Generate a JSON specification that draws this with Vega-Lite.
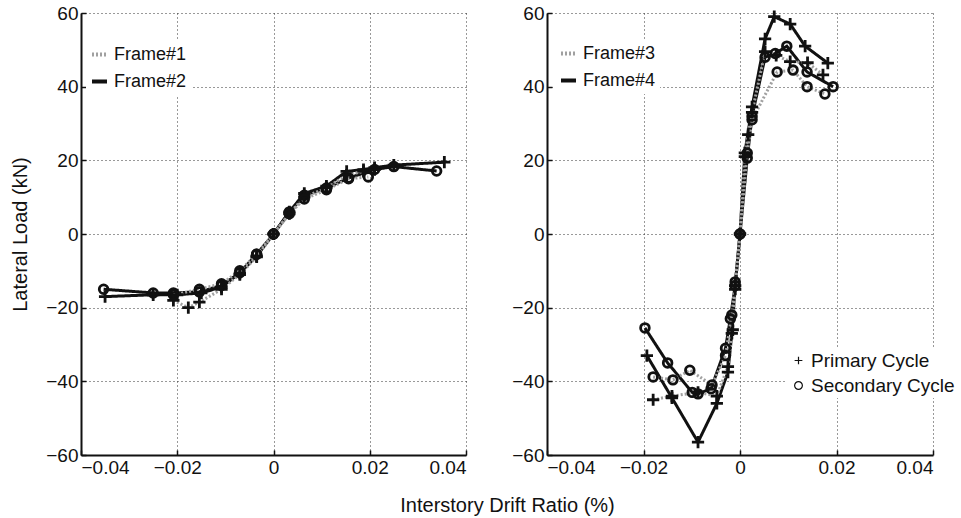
{
  "$schema": "https://vega.github.io/schema/vega-lite/v6.json",
  "padding": {"left": 10, "top": 4, "right": 2, "bottom": 2},
  "background": "white",
  "config": {
    "font": "Liberation Sans",
    "view": {"stroke": null},
    "axis": {
      "gridDash": [1, 3], "gridColor": "#333", "gridWidth": 1, "gridOpacity": 1,
      "domainColor": "#111", "domainWidth": 2,
      "tickColor": "#111", "tickWidth": 1.5, "tickSize": -5,
      "labelFontSize": 19, "labelColor": "#111", "labelPadding": 8,
      "titleFontSize": 20, "titleFontWeight": "normal", "titleColor": "#111"
    },
    "legend": {"labelColor": "#111", "fillColor": "white", "title": null}
  },
  "datasets": {
    "d": [
      {"panel":"L","frame":"Frame#2","cycle":"Primary Cycle","s":"F2P","x":-0.035,"y":-17},
      {"panel":"L","frame":"Frame#2","cycle":"Primary Cycle","s":"F2P","x":-0.025,"y":-16.5},
      {"panel":"L","frame":"Frame#2","cycle":"Primary Cycle","s":"F2P","x":-0.020,"y":-16.5},
      {"panel":"L","frame":"Frame#2","cycle":"Primary Cycle","s":"F2P","x":-0.015,"y":-16},
      {"panel":"L","frame":"Frame#2","cycle":"Primary Cycle","s":"F2P","x":-0.0108,"y":-14.4},
      {"panel":"L","frame":"Frame#2","cycle":"Primary Cycle","s":"F2P","x":-0.007,"y":-10.6},
      {"panel":"L","frame":"Frame#2","cycle":"Primary Cycle","s":"F2P","x":-0.0035,"y":-6},
      {"panel":"L","frame":"Frame#2","cycle":"Primary Cycle","s":"F2P","x":0,"y":0},
      {"panel":"L","frame":"Frame#2","cycle":"Primary Cycle","s":"F2P","x":0.0033,"y":6},
      {"panel":"L","frame":"Frame#2","cycle":"Primary Cycle","s":"F2P","x":0.0064,"y":11},
      {"panel":"L","frame":"Frame#2","cycle":"Primary Cycle","s":"F2P","x":0.011,"y":13},
      {"panel":"L","frame":"Frame#2","cycle":"Primary Cycle","s":"F2P","x":0.0152,"y":17},
      {"panel":"L","frame":"Frame#2","cycle":"Primary Cycle","s":"F2P","x":0.0187,"y":17.5},
      {"panel":"L","frame":"Frame#2","cycle":"Primary Cycle","s":"F2P","x":0.021,"y":18},
      {"panel":"L","frame":"Frame#2","cycle":"Primary Cycle","s":"F2P","x":0.025,"y":18.7},
      {"panel":"L","frame":"Frame#2","cycle":"Primary Cycle","s":"F2P","x":0.0355,"y":19.5},

      {"panel":"L","frame":"Frame#2","cycle":"Secondary Cycle","s":"F2S","x":-0.0353,"y":-15},
      {"panel":"L","frame":"Frame#2","cycle":"Secondary Cycle","s":"F2S","x":-0.025,"y":-16},
      {"panel":"L","frame":"Frame#2","cycle":"Secondary Cycle","s":"F2S","x":-0.0208,"y":-16},
      {"panel":"L","frame":"Frame#2","cycle":"Secondary Cycle","s":"F2S","x":-0.0154,"y":-15.7},
      {"panel":"L","frame":"Frame#2","cycle":"Secondary Cycle","s":"F2S","x":-0.0108,"y":-14},
      {"panel":"L","frame":"Frame#2","cycle":"Secondary Cycle","s":"F2S","x":-0.007,"y":-10.5},
      {"panel":"L","frame":"Frame#2","cycle":"Secondary Cycle","s":"F2S","x":-0.0035,"y":-5.5},
      {"panel":"L","frame":"Frame#2","cycle":"Secondary Cycle","s":"F2S","x":0,"y":0},
      {"panel":"L","frame":"Frame#2","cycle":"Secondary Cycle","s":"F2S","x":0.0033,"y":6},
      {"panel":"L","frame":"Frame#2","cycle":"Secondary Cycle","s":"F2S","x":0.0064,"y":10.5},
      {"panel":"L","frame":"Frame#2","cycle":"Secondary Cycle","s":"F2S","x":0.011,"y":12.5},
      {"panel":"L","frame":"Frame#2","cycle":"Secondary Cycle","s":"F2S","x":0.0156,"y":15.2},
      {"panel":"L","frame":"Frame#2","cycle":"Secondary Cycle","s":"F2S","x":0.021,"y":17.5},
      {"panel":"L","frame":"Frame#2","cycle":"Secondary Cycle","s":"F2S","x":0.025,"y":18.3},
      {"panel":"L","frame":"Frame#2","cycle":"Secondary Cycle","s":"F2S","x":0.0339,"y":17.1},

      {"panel":"L","frame":"Frame#1","cycle":"Primary Cycle","s":"F1P","x":-0.0208,"y":-18},
      {"panel":"L","frame":"Frame#1","cycle":"Primary Cycle","s":"F1P","x":-0.0177,"y":-20},
      {"panel":"L","frame":"Frame#1","cycle":"Primary Cycle","s":"F1P","x":-0.0154,"y":-18.5},
      {"panel":"L","frame":"Frame#1","cycle":"Primary Cycle","s":"F1P","x":-0.0108,"y":-15},
      {"panel":"L","frame":"Frame#1","cycle":"Primary Cycle","s":"F1P","x":-0.007,"y":-11},
      {"panel":"L","frame":"Frame#1","cycle":"Primary Cycle","s":"F1P","x":-0.0035,"y":-6.2},
      {"panel":"L","frame":"Frame#1","cycle":"Primary Cycle","s":"F1P","x":0,"y":0},
      {"panel":"L","frame":"Frame#1","cycle":"Primary Cycle","s":"F1P","x":0.0033,"y":5.5},
      {"panel":"L","frame":"Frame#1","cycle":"Primary Cycle","s":"F1P","x":0.0064,"y":10},
      {"panel":"L","frame":"Frame#1","cycle":"Primary Cycle","s":"F1P","x":0.011,"y":12.5},
      {"panel":"L","frame":"Frame#1","cycle":"Primary Cycle","s":"F1P","x":0.0152,"y":16},
      {"panel":"L","frame":"Frame#1","cycle":"Primary Cycle","s":"F1P","x":0.0187,"y":17},
      {"panel":"L","frame":"Frame#1","cycle":"Primary Cycle","s":"F1P","x":0.021,"y":17.5},

      {"panel":"L","frame":"Frame#1","cycle":"Secondary Cycle","s":"F1S","x":-0.0208,"y":-16.5},
      {"panel":"L","frame":"Frame#1","cycle":"Secondary Cycle","s":"F1S","x":-0.0154,"y":-15},
      {"panel":"L","frame":"Frame#1","cycle":"Secondary Cycle","s":"F1S","x":-0.0108,"y":-13.5},
      {"panel":"L","frame":"Frame#1","cycle":"Secondary Cycle","s":"F1S","x":-0.007,"y":-10},
      {"panel":"L","frame":"Frame#1","cycle":"Secondary Cycle","s":"F1S","x":-0.0035,"y":-5.5},
      {"panel":"L","frame":"Frame#1","cycle":"Secondary Cycle","s":"F1S","x":0,"y":0},
      {"panel":"L","frame":"Frame#1","cycle":"Secondary Cycle","s":"F1S","x":0.0033,"y":5.5},
      {"panel":"L","frame":"Frame#1","cycle":"Secondary Cycle","s":"F1S","x":0.0064,"y":9.5},
      {"panel":"L","frame":"Frame#1","cycle":"Secondary Cycle","s":"F1S","x":0.011,"y":12},
      {"panel":"L","frame":"Frame#1","cycle":"Secondary Cycle","s":"F1S","x":0.0156,"y":15},
      {"panel":"L","frame":"Frame#1","cycle":"Secondary Cycle","s":"F1S","x":0.0197,"y":15.5},

      {"panel":"R","frame":"Frame#4","cycle":"Primary Cycle","s":"F4P","x":-0.0193,"y":-33},
      {"panel":"R","frame":"Frame#4","cycle":"Primary Cycle","s":"F4P","x":-0.0141,"y":-44.5},
      {"panel":"R","frame":"Frame#4","cycle":"Primary Cycle","s":"F4P","x":-0.0087,"y":-56.5},
      {"panel":"R","frame":"Frame#4","cycle":"Primary Cycle","s":"F4P","x":-0.0048,"y":-46},
      {"panel":"R","frame":"Frame#4","cycle":"Primary Cycle","s":"F4P","x":-0.0025,"y":-37.5},
      {"panel":"R","frame":"Frame#4","cycle":"Primary Cycle","s":"F4P","x":-0.0017,"y":-27},
      {"panel":"R","frame":"Frame#4","cycle":"Primary Cycle","s":"F4P","x":-0.001,"y":-14},
      {"panel":"R","frame":"Frame#4","cycle":"Primary Cycle","s":"F4P","x":0,"y":0},
      {"panel":"R","frame":"Frame#4","cycle":"Primary Cycle","s":"F4P","x":0.001,"y":22},
      {"panel":"R","frame":"Frame#4","cycle":"Primary Cycle","s":"F4P","x":0.0025,"y":34.5},
      {"panel":"R","frame":"Frame#4","cycle":"Primary Cycle","s":"F4P","x":0.0052,"y":53},
      {"panel":"R","frame":"Frame#4","cycle":"Primary Cycle","s":"F4P","x":0.0071,"y":59},
      {"panel":"R","frame":"Frame#4","cycle":"Primary Cycle","s":"F4P","x":0.0104,"y":57},
      {"panel":"R","frame":"Frame#4","cycle":"Primary Cycle","s":"F4P","x":0.0135,"y":51},
      {"panel":"R","frame":"Frame#4","cycle":"Primary Cycle","s":"F4P","x":0.0182,"y":46.4},

      {"panel":"R","frame":"Frame#4","cycle":"Secondary Cycle","s":"F4S","x":-0.0197,"y":-25.5},
      {"panel":"R","frame":"Frame#4","cycle":"Secondary Cycle","s":"F4S","x":-0.015,"y":-35},
      {"panel":"R","frame":"Frame#4","cycle":"Secondary Cycle","s":"F4S","x":-0.0099,"y":-43},
      {"panel":"R","frame":"Frame#4","cycle":"Secondary Cycle","s":"F4S","x":-0.0087,"y":-43.4},
      {"panel":"R","frame":"Frame#4","cycle":"Secondary Cycle","s":"F4S","x":-0.006,"y":-42},
      {"panel":"R","frame":"Frame#4","cycle":"Secondary Cycle","s":"F4S","x":-0.003,"y":-31},
      {"panel":"R","frame":"Frame#4","cycle":"Secondary Cycle","s":"F4S","x":-0.002,"y":-23},
      {"panel":"R","frame":"Frame#4","cycle":"Secondary Cycle","s":"F4S","x":-0.001,"y":-14},
      {"panel":"R","frame":"Frame#4","cycle":"Secondary Cycle","s":"F4S","x":0,"y":0},
      {"panel":"R","frame":"Frame#4","cycle":"Secondary Cycle","s":"F4S","x":0.0015,"y":20.6},
      {"panel":"R","frame":"Frame#4","cycle":"Secondary Cycle","s":"F4S","x":0.0025,"y":32},
      {"panel":"R","frame":"Frame#4","cycle":"Secondary Cycle","s":"F4S","x":0.0052,"y":48},
      {"panel":"R","frame":"Frame#4","cycle":"Secondary Cycle","s":"F4S","x":0.0073,"y":49},
      {"panel":"R","frame":"Frame#4","cycle":"Secondary Cycle","s":"F4S","x":0.0097,"y":51},
      {"panel":"R","frame":"Frame#4","cycle":"Secondary Cycle","s":"F4S","x":0.0139,"y":44},
      {"panel":"R","frame":"Frame#4","cycle":"Secondary Cycle","s":"F4S","x":0.0193,"y":40},

      {"panel":"R","frame":"Frame#3","cycle":"Primary Cycle","s":"F3P","x":-0.018,"y":-45},
      {"panel":"R","frame":"Frame#3","cycle":"Primary Cycle","s":"F3P","x":-0.0141,"y":-44},
      {"panel":"R","frame":"Frame#3","cycle":"Primary Cycle","s":"F3P","x":-0.0087,"y":-43},
      {"panel":"R","frame":"Frame#3","cycle":"Primary Cycle","s":"F3P","x":-0.0048,"y":-44},
      {"panel":"R","frame":"Frame#3","cycle":"Primary Cycle","s":"F3P","x":-0.0025,"y":-36},
      {"panel":"R","frame":"Frame#3","cycle":"Primary Cycle","s":"F3P","x":-0.0015,"y":-26},
      {"panel":"R","frame":"Frame#3","cycle":"Primary Cycle","s":"F3P","x":-0.001,"y":-15},
      {"panel":"R","frame":"Frame#3","cycle":"Primary Cycle","s":"F3P","x":0,"y":0},
      {"panel":"R","frame":"Frame#3","cycle":"Primary Cycle","s":"F3P","x":0.001,"y":21},
      {"panel":"R","frame":"Frame#3","cycle":"Primary Cycle","s":"F3P","x":0.0017,"y":27},
      {"panel":"R","frame":"Frame#3","cycle":"Primary Cycle","s":"F3P","x":0.0025,"y":33},
      {"panel":"R","frame":"Frame#3","cycle":"Primary Cycle","s":"F3P","x":0.0052,"y":49.5},
      {"panel":"R","frame":"Frame#3","cycle":"Primary Cycle","s":"F3P","x":0.0075,"y":48.5},
      {"panel":"R","frame":"Frame#3","cycle":"Primary Cycle","s":"F3P","x":0.0104,"y":46.8},
      {"panel":"R","frame":"Frame#3","cycle":"Primary Cycle","s":"F3P","x":0.014,"y":46.5},
      {"panel":"R","frame":"Frame#3","cycle":"Primary Cycle","s":"F3P","x":0.0172,"y":43.2},

      {"panel":"R","frame":"Frame#3","cycle":"Secondary Cycle","s":"F3S","x":-0.018,"y":-38.8},
      {"panel":"R","frame":"Frame#3","cycle":"Secondary Cycle","s":"F3S","x":-0.0139,"y":-39.6},
      {"panel":"R","frame":"Frame#3","cycle":"Secondary Cycle","s":"F3S","x":-0.0104,"y":-37},
      {"panel":"R","frame":"Frame#3","cycle":"Secondary Cycle","s":"F3S","x":-0.0058,"y":-41},
      {"panel":"R","frame":"Frame#3","cycle":"Secondary Cycle","s":"F3S","x":-0.003,"y":-33},
      {"panel":"R","frame":"Frame#3","cycle":"Secondary Cycle","s":"F3S","x":-0.0017,"y":-22},
      {"panel":"R","frame":"Frame#3","cycle":"Secondary Cycle","s":"F3S","x":-0.001,"y":-13},
      {"panel":"R","frame":"Frame#3","cycle":"Secondary Cycle","s":"F3S","x":0,"y":0},
      {"panel":"R","frame":"Frame#3","cycle":"Secondary Cycle","s":"F3S","x":0.0015,"y":22},
      {"panel":"R","frame":"Frame#3","cycle":"Secondary Cycle","s":"F3S","x":0.0025,"y":31},
      {"panel":"R","frame":"Frame#3","cycle":"Secondary Cycle","s":"F3S","x":0.0077,"y":44},
      {"panel":"R","frame":"Frame#3","cycle":"Secondary Cycle","s":"F3S","x":0.011,"y":44.5},
      {"panel":"R","frame":"Frame#3","cycle":"Secondary Cycle","s":"F3S","x":0.0139,"y":40},
      {"panel":"R","frame":"Frame#3","cycle":"Secondary Cycle","s":"F3S","x":0.0176,"y":38}
    ]
  },
  "spacing": 81,
  "bounds": "flush",
  "resolve": {
    "scale": {"color": "independent", "strokeDash": "independent", "shape": "independent"},
    "legend": {"color": "independent", "strokeDash": "independent", "shape": "independent"}
  },
  "hconcat": [
    {
      "width": 385, "height": 442,
      "data": {"name": "d"},
      "transform": [{"filter": "datum.panel === 'L'"}],
      "encoding": {
        "x": {"field": "x", "type": "quantitative", "scale": {"domain": [-0.04, 0.04], "nice": false},
              "axis": {"title": "Interstory Drift Ratio (%)", "titleX": 426, "titleY": 40, "titleAlign": "center", "titleBaseline": "top", "values": [-0.04, -0.02, 0, 0.02, 0.04], "format": "~g"}},
        "y": {"field": "y", "type": "quantitative", "scale": {"domain": [-60, 60], "nice": false},
              "axis": {"title": "Lateral Load (kN)", "titlePadding": 15, "values": [-60, -40, -20, 0, 20, 40, 60], "format": "d"}}
      },
      "layer": [
        {
          "mark": {"type": "line", "strokeWidth": 3},
          "encoding": {
            "detail": {"field": "s"},
            "color": {"field": "frame", "type": "nominal", "scale": {"domain": ["Frame#1", "Frame#2"], "range": ["#a0a0a0", "#111111"]},
                      "legend": {"orient": "none", "legendX": 5, "legendY": 28, "labelFontSize": 18, "symbolType": "stroke", "symbolStrokeWidth": 4, "symbolSize": 225, "padding": 4, "rowPadding": 8, "labelOffset": 5}},
            "strokeDash": {"field": "frame", "type": "nominal", "scale": {"domain": ["Frame#1", "Frame#2"], "range": [[2, 2], [1, 0]]},
                      "legend": {"orient": "none", "legendX": 5, "legendY": 28, "labelFontSize": 18, "symbolType": "stroke", "symbolStrokeWidth": 4, "symbolSize": 225, "padding": 4, "rowPadding": 8, "labelOffset": 5}}
          }
        },
        {
          "mark": {"type": "point", "filled": false, "strokeWidth": 2.8, "color": "#111", "opacity": 1},
          "encoding": {
            "shape": {"field": "cycle", "type": "nominal", "scale": {"domain": ["Primary Cycle", "Secondary Cycle"], "range": ["M-1,0L1,0M0,-1L0,1", "circle"]}, "legend": null},
            "size": {"field": "cycle", "type": "nominal", "scale": {"domain": ["Primary Cycle", "Secondary Cycle"], "range": [150, 75]}, "legend": null}
          }
        }
      ]
    },
    {
      "width": 386, "height": 442,
      "data": {"name": "d"},
      "transform": [{"filter": "datum.panel === 'R'"}],
      "encoding": {
        "x": {"field": "x", "type": "quantitative", "scale": {"domain": [-0.04, 0.04], "nice": false},
              "axis": {"title": null, "values": [-0.04, -0.02, 0, 0.02, 0.04], "format": "~g"}},
        "y": {"field": "y", "type": "quantitative", "scale": {"domain": [-60, 60], "nice": false},
              "axis": {"title": null, "values": [-60, -40, -20, 0, 20, 40, 60], "format": "d"}}
      },
      "layer": [
        {
          "mark": {"type": "line", "strokeWidth": 3},
          "encoding": {
            "detail": {"field": "s"},
            "color": {"field": "frame", "type": "nominal", "scale": {"domain": ["Frame#3", "Frame#4"], "range": ["#a0a0a0", "#111111"]},
                      "legend": {"orient": "none", "legendX": 8, "legendY": 27, "labelFontSize": 18, "symbolType": "stroke", "symbolStrokeWidth": 4, "symbolSize": 225, "padding": 4, "rowPadding": 8, "labelOffset": 5}},
            "strokeDash": {"field": "frame", "type": "nominal", "scale": {"domain": ["Frame#3", "Frame#4"], "range": [[2, 2], [1, 0]]},
                      "legend": {"orient": "none", "legendX": 8, "legendY": 27, "labelFontSize": 18, "symbolType": "stroke", "symbolStrokeWidth": 4, "symbolSize": 225, "padding": 4, "rowPadding": 8, "labelOffset": 5}}
          }
        },
        {
          "mark": {"type": "point", "filled": false, "strokeWidth": 2.8, "color": "#111", "opacity": 1},
          "encoding": {
            "shape": {"field": "cycle", "type": "nominal", "scale": {"domain": ["Primary Cycle", "Secondary Cycle"], "range": ["M-1,0L1,0M0,-1L0,1", "circle"]},
                      "legend": {"orient": "none", "legendX": 240, "legendY": 336, "labelFontSize": 19, "symbolStrokeWidth": 1.2, "symbolSize": 60, "symbolStrokeColor": "#111", "padding": 2, "rowPadding": 5, "labelOffset": 3}},
            "size": {"field": "cycle", "type": "nominal", "scale": {"domain": ["Primary Cycle", "Secondary Cycle"], "range": [150, 75]}, "legend": null}
          }
        }
      ]
    }
  ]
}
